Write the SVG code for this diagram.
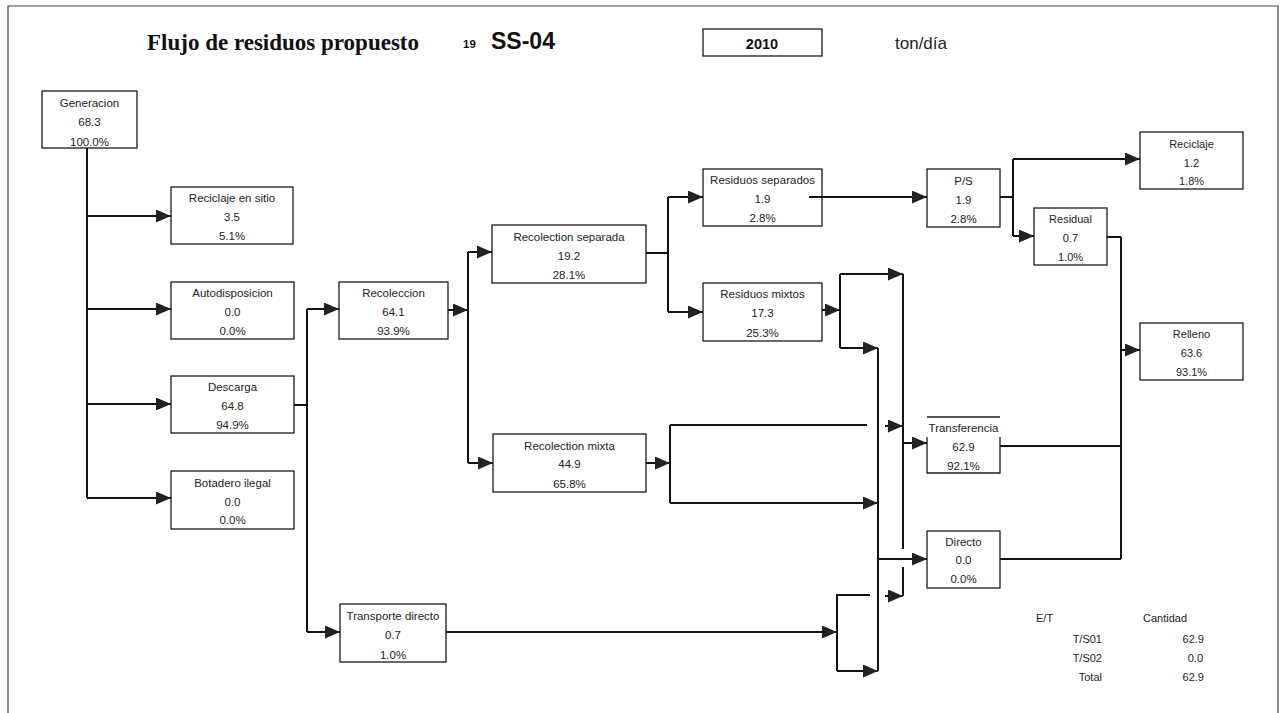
<svg xmlns="http://www.w3.org/2000/svg" width="1286" height="713" viewBox="0 0 1286 713">
<defs>
<style>
.bg{fill:#ffffff}
.frame{fill:none;stroke:#444;stroke-width:1.2}
.box{fill:none;stroke:#1a1a1a;stroke-width:1.3}
.bl{fill:none;stroke:#1a1a1a;stroke-width:1.3}
.t{font-family:"Liberation Sans",Arial,sans-serif;font-size:11.5px;fill:#222;text-anchor:middle}
.ts{font-family:"Liberation Sans",Arial,sans-serif;font-size:11px;fill:#222;text-anchor:middle}
.lg{font-family:"Liberation Sans",Arial,sans-serif;font-size:11px;fill:#222}
.c{fill:none;stroke:#111;stroke-width:2}
.a{fill:none;stroke:#111;stroke-width:2;marker-end:url(#arr)}
</style>
<marker id="arr" markerUnits="userSpaceOnUse" markerWidth="16" markerHeight="13" refX="15" refY="6.5" orient="auto">
<path d="M0,0 L15,6.5 L0,13 Z" fill="#222"/>
</marker>
</defs>
<rect class="bg" x="0" y="0" width="1286" height="713"/>
<path class="frame" d="M8,720 V6 H1278 V720"/>

<g id="header">
<text x="147" y="50" style="font-family:'Liberation Serif','Times New Roman',serif;font-size:23px;font-weight:bold;fill:#111">Flujo de residuos propuesto</text>
<text x="463" y="48" style="font-family:'Liberation Sans',Arial,sans-serif;font-size:11.5px;font-weight:bold;fill:#111">19</text>
<text x="491" y="49" style="font-family:'Liberation Sans',Arial,sans-serif;font-size:23px;font-weight:bold;fill:#111">SS-04</text>
<rect class="box" x="703" y="29" width="119" height="27"/>
<text x="762" y="49" style="font-family:'Liberation Sans',Arial,sans-serif;font-size:14.5px;font-weight:bold;fill:#111;text-anchor:middle">2010</text>
<text x="895" y="49" style="font-family:'Liberation Sans',Arial,sans-serif;font-size:17px;fill:#222">ton/día</text>
</g>

<g id="connectors">
<path class="c" d="M87,148 V498"/>
<path class="a" d="M87,216 H171"/>
<path class="a" d="M87,309 H171"/>
<path class="a" d="M87,404 H171"/>
<path class="a" d="M87,498 H171"/>
<path class="c" d="M294,405 H307 M307,309 V632"/>
<path class="a" d="M307,309 H339"/>
<path class="a" d="M307,632 H340"/>
<path class="a" d="M448,310 H468"/>
<path class="c" d="M468,252 V463"/>
<path class="a" d="M468,252 H492"/>
<path class="a" d="M468,463 H493"/>
<path class="c" d="M646,253 H668 M668,197 V312"/>
<path class="a" d="M668,197 H703"/>
<path class="a" d="M668,312 H703"/>
<path class="a" d="M809,197 H927"/>
<path class="c" d="M1000,197 H1013 M1013,159 V236"/>
<path class="a" d="M1013,159 H1140"/>
<path class="a" d="M1013,236 H1034"/>
<path class="c" d="M1107,237 H1121 M1121,237 V559"/>
<path class="a" d="M1121,350 H1140"/>
<path class="c" d="M1000,446 H1121"/>
<path class="c" d="M1000,559 H1121"/>
<path class="a" d="M822,310 H840"/>
<path class="c" d="M840,274 V348"/>
<path class="a" d="M840,274 H903"/>
<path class="a" d="M840,348 H878"/>
<path class="c" d="M903,274 V549 M903,567 V596"/>
<path class="c" d="M878,348 V671"/>
<path class="a" d="M646,463 H670"/>
<path class="c" d="M670,425 V503 M670,425 H867"/>
<path class="a" d="M670,503 H878"/>
<path class="a" d="M885,426 H903"/>
<path class="a" d="M903,443 H927"/>
<path class="a" d="M878,559 H927"/>
<path class="a" d="M885,596 H903"/>
<path class="a" d="M446,632 H837"/>
<path class="c" d="M870,595 H837 V671"/>
<path class="a" d="M837,671 H878"/>
</g>

<g id="n-generacion">
<rect class="box" x="42" y="91" width="95" height="57"/>
<text class="t" x="89.5" y="107">Generacion</text>
<text class="t" x="89.5" y="126">68.3</text>
<text class="t" x="89.5" y="146">100.0%</text>
</g>
<g id="n-reciclaje-sitio">
<rect class="box" x="171" y="187" width="122" height="57"/>
<text class="t" x="232" y="202">Reciclaje en sitio</text>
<text class="t" x="232" y="221">3.5</text>
<text class="t" x="232" y="240">5.1%</text>
</g>
<g id="n-autodisposicion">
<rect class="box" x="171" y="282" width="123" height="57"/>
<text class="t" x="232.5" y="297">Autodisposicion</text>
<text class="t" x="232.5" y="316">0.0</text>
<text class="t" x="232.5" y="335">0.0%</text>
</g>
<g id="n-descarga">
<rect class="box" x="171" y="376" width="123" height="57"/>
<text class="t" x="232.5" y="391">Descarga</text>
<text class="t" x="232.5" y="410">64.8</text>
<text class="t" x="232.5" y="429">94.9%</text>
</g>
<g id="n-botadero">
<rect class="box" x="171" y="471" width="123" height="58"/>
<text class="t" x="232.5" y="487">Botadero ilegal</text>
<text class="t" x="232.5" y="506">0.0</text>
<text class="t" x="232.5" y="524">0.0%</text>
</g>
<g id="n-recoleccion">
<rect class="box" x="339" y="282" width="109" height="57"/>
<text class="t" x="393.5" y="297">Recoleccion</text>
<text class="t" x="393.5" y="316">64.1</text>
<text class="t" x="393.5" y="335">93.9%</text>
</g>
<g id="n-transporte">
<rect class="box" x="340" y="604" width="106" height="58"/>
<text class="t" x="393" y="620">Transporte directo</text>
<text class="t" x="393" y="639">0.7</text>
<text class="t" x="393" y="659">1.0%</text>
</g>
<g id="n-recol-separada">
<rect class="box" x="492" y="225" width="154" height="58"/>
<text class="t" x="569" y="241">Recolection separada</text>
<text class="t" x="569" y="260">19.2</text>
<text class="t" x="569" y="279">28.1%</text>
</g>
<g id="n-recol-mixta">
<rect class="box" x="493" y="434" width="153" height="58"/>
<text class="t" x="569.5" y="450">Recolection mixta</text>
<text class="t" x="569.5" y="468">44.9</text>
<text class="t" x="569.5" y="488">65.8%</text>
</g>
<g id="n-res-separados">
<rect class="box" x="703" y="169" width="119" height="57"/>
<text class="t" x="762.5" y="184">Residuos separados</text>
<text class="t" x="762.5" y="203">1.9</text>
<text class="t" x="762.5" y="222">2.8%</text>
</g>
<g id="n-res-mixtos">
<rect class="box" x="703" y="283" width="119" height="58"/>
<text class="t" x="762.5" y="298">Residuos mixtos</text>
<text class="t" x="762.5" y="317">17.3</text>
<text class="t" x="762.5" y="337">25.3%</text>
</g>
<g id="n-ps">
<rect class="box" x="927" y="169" width="73" height="58"/>
<text class="t" x="963.5" y="185">P/S</text>
<text class="t" x="963.5" y="204">1.9</text>
<text class="t" x="963.5" y="223">2.8%</text>
</g>
<g id="n-transferencia">
<path class="bl" d="M927,417 H1000 M927,437 V473 H1000 V437"/>
<text class="t" x="963.5" y="432">Transferencia</text>
<text class="t" x="963.5" y="451">62.9</text>
<text class="t" x="963.5" y="470">92.1%</text>
</g>
<g id="n-directo">
<rect class="box" x="927" y="531" width="73" height="57"/>
<text class="t" x="963.5" y="546">Directo</text>
<text class="t" x="963.5" y="564">0.0</text>
<text class="t" x="963.5" y="583">0.0%</text>
</g>
<g id="n-residual">
<rect class="box" x="1034" y="208" width="73" height="57"/>
<text class="ts" x="1070.5" y="223">Residual</text>
<text class="ts" x="1070.5" y="242">0.7</text>
<text class="ts" x="1070.5" y="261">1.0%</text>
</g>
<g id="n-reciclaje">
<rect class="box" x="1140" y="132" width="103" height="57"/>
<text class="ts" x="1191.5" y="148">Reciclaje</text>
<text class="ts" x="1191.5" y="167">1.2</text>
<text class="ts" x="1191.5" y="185">1.8%</text>
</g>
<g id="n-relleno">
<rect class="box" x="1140" y="323" width="103" height="57"/>
<text class="ts" x="1191.5" y="338">Relleno</text>
<text class="ts" x="1191.5" y="357">63.6</text>
<text class="ts" x="1191.5" y="376">93.1%</text>
</g>

<g id="legend">
<text class="lg" x="1036" y="622">E/T</text>
<text class="lg" x="1143" y="622">Cantidad</text>
<text class="lg" x="1102" y="643" text-anchor="end">T/S01</text>
<text class="lg" x="1204" y="643" text-anchor="end">62.9</text>
<text class="lg" x="1102" y="662" text-anchor="end">T/S02</text>
<text class="lg" x="1203" y="662" text-anchor="end">0.0</text>
<text class="lg" x="1102" y="681" text-anchor="end">Total</text>
<text class="lg" x="1204" y="681" text-anchor="end">62.9</text>
</g>
</svg>
